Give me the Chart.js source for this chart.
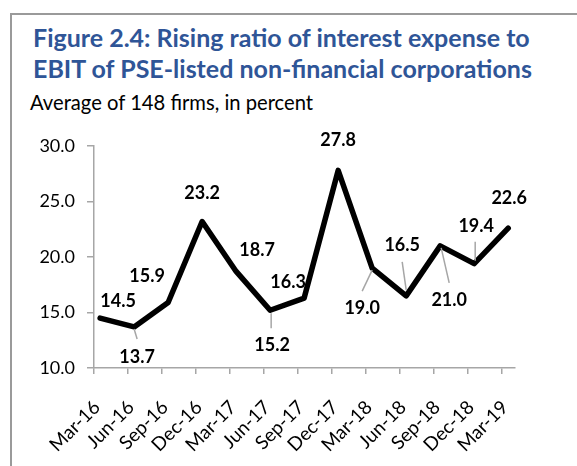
<!DOCTYPE html>
<html>
<head>
<meta charset="utf-8">
<script src="https://cdn.jsdelivr.net/npm/chart.js@4.4.1/dist/chart.umd.min.js"></script>
<style>
  html, body { margin: 0; padding: 0; background: #fff; }
  body { width: 577px; height: 466px; position: relative; overflow: hidden; font-family: Lato, "Noto Sans", sans-serif; }
  #frame { position: absolute; left: 10px; top: 13px; width: 600px; height: 500px; border: 2px solid #9a9a9a; box-sizing: border-box; }
  #title { position: absolute; left: 33px; top: 22px; color: #2f5597; font-weight: bold; font-size: 25px; line-height: 31px; white-space: nowrap; }
  #subtitle { position: absolute; left: 30px; top: 90px; color: #000; font-size: 20.2px; white-space: nowrap; }
  #wrap { position: absolute; left: 0; top: 0; width: 577px; height: 466px; }
</style>
</head>
<body>
<div id="frame"></div>
<div id="title">Figure 2.4: Rising ratio of interest expense to<br>EBIT of PSE-listed non-financial corporations</div>
<div id="subtitle">Average of 148 firms, in percent</div>
<div id="wrap"><canvas id="ratioChart"></canvas></div>
<script>
// Quarterly ratio of interest expense to EBIT, in percent
const quarters = ['Mar-16', 'Jun-16', 'Sep-16', 'Dec-16', 'Mar-17', 'Jun-17', 'Sep-17',
                  'Dec-17', 'Mar-18', 'Jun-18', 'Sep-18', 'Dec-18', 'Mar-19'];
const ratio = [14.5, 13.7, 15.9, 23.2, 18.7, 15.2, 16.3, 27.8, 19.0, 16.5, 21.0, 19.4, 22.6];
const yTicks = [10, 15, 20, 25, 30];

// Excel puts the tick marks a little left of each point
const TICK_SHIFT = 0.18;

// where each value label sits relative to its point (dx, dy), plus optional leader line
const labelLayout = [
    { dx: 18, dy: -17 },
    { dx: 3, dy: 30, line: [0, 2, 3, 12] },
    { dx: -21, dy: -26 },
    { dx: 0, dy: -28 },
    { dx: 21, dy: -21 },
    { dx: 2, dy: 35, line: [1, 3, 1, 18] },
    { dx: -16, dy: -16 },
    { dx: 0, dy: -30 },
    { dx: -10, dy: 40, line: [0, 2, -10, 23] },
    { dx: -4, dy: -51, line: [-4, -34, 0, -6] },
    { dx: 9, dy: 54, line: [1, 2, 9, 37] },
    { dx: 2, dy: -37, line: [1, -22, 1, -3] },
    { dx: 1, dy: -30 }
];

const valueLabels = {
    id: 'valueLabels',
    afterDatasetsDraw(chart) {
        const ctx = chart.ctx;
        const meta = chart.getDatasetMeta(0);
        ctx.save();
        meta.data.forEach((pt, i) => {
            const lay = labelLayout[i];
            if (lay.line) {
                ctx.strokeStyle = '#a6a6a6';
                ctx.lineWidth = 1.5;
                ctx.beginPath();
                ctx.moveTo(pt.x + lay.line[0], pt.y + lay.line[1]);
                ctx.lineTo(pt.x + lay.line[2], pt.y + lay.line[3]);
                ctx.stroke();
            }
            ctx.fillStyle = '#000';
            ctx.font = 'bold 18px Lato, "Noto Sans", sans-serif';
            ctx.textAlign = 'center';
            ctx.textBaseline = 'middle';
            ctx.fillText(ratio[i].toFixed(1), pt.x + lay.dx, pt.y + lay.dy);
        });
        ctx.restore();
    }
};

const ctx = document.getElementById('ratioChart').getContext('2d');
const chart = new Chart(ctx, {
    type: 'line',
    data: {
        datasets: [{
            data: ratio.map((v, i) => ({ x: i, y: v })),
            borderColor: '#000',
            borderWidth: 5.5,
            borderJoinStyle: 'round',
            borderCapStyle: 'round',
            pointRadius: 0,
            tension: 0,
            fill: false
        }]
    },
    options: {
        responsive: true,
        maintainAspectRatio: false,
        animation: false,
        layout: {
            padding: { top: 146, right: 62, left: 0, bottom: 0 }
        },
        scales: {
            x: {
                type: 'linear',
                min: -TICK_SHIFT,
                max: 12.2,
                afterBuildTicks: axis => {
                    axis.ticks = quarters.map((q, i) => ({ value: i - TICK_SHIFT }));
                },
                afterFit: axis => { axis.height = 98; },
                ticks: {
                    autoSkip: false,
                    minRotation: 45,
                    maxRotation: 45,
                    padding: 22,
                    labelOffset: 3,
                    color: '#000',
                    font: { family: 'Lato, "Noto Sans", sans-serif', size: 19 },
                    callback: value => quarters[Math.round(value + TICK_SHIFT)]
                },
                grid: {
                    drawOnChartArea: false,
                    drawTicks: true,
                    tickLength: 6,
                    color: '#a6a6a6',
                    lineWidth: 1.5
                },
                border: { color: '#a6a6a6', width: 1.5 }
            },
            y: {
                min: 10,
                max: 30,
                afterBuildTicks: axis => {
                    axis.ticks = yTicks.map(v => ({ value: v }));
                },
                afterFit: axis => { axis.width = 94; },
                ticks: {
                    padding: 12,
                    color: '#000',
                    font: { family: 'Lato, "Noto Sans", sans-serif', size: 18 },
                    callback: value => value.toFixed(1)
                },
                grid: {
                    drawOnChartArea: false,
                    drawTicks: true,
                    tickLength: 7,
                    color: '#a6a6a6',
                    lineWidth: 1.5
                },
                border: { color: '#a6a6a6', width: 1.5 }
            }
        },
        plugins: {
            legend: { display: false },
            tooltip: { enabled: false }
        }
    },
    plugins: [valueLabels]
});
</script>
</body>
</html>
